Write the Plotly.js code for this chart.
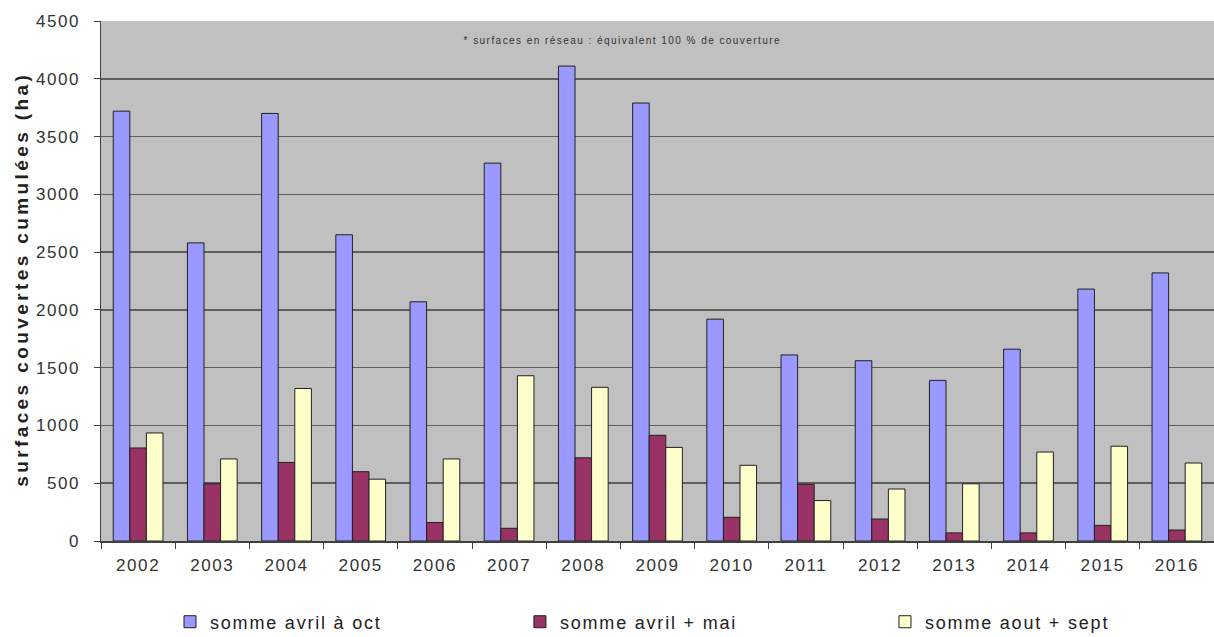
<!DOCTYPE html>
<html>
<head>
<meta charset="utf-8">
<script src="https://cdn.plot.ly/plotly-3.0.1.min.js"></script>
<style>
  html, body { margin: 0; padding: 0; background: #fff; }
  #chart { width: 1214px; height: 637px; }
  .xtick text, .ytick text { letter-spacing: 1.6px; }
  .annotation[data-index="0"] text { letter-spacing: 3.4px; }
  .annotation[data-index="1"] text { letter-spacing: 1.45px; }
</style>
</head>
<body>
<div id="chart"></div>
<script>
// Years on the category axis
const years = ['2002', '2003', '2004', '2005', '2006', '2007', '2008', '2009',
               '2010', '2011', '2012', '2013', '2014', '2015', '2016'];

// Cumulated covered surfaces (ha)
const sommeAvrilOct = [3720, 2580, 3700, 2650, 2070, 3270, 4110, 3790,
                       1920, 1610, 1560, 1390, 1660, 2180, 2320];
const sommeAvrilMai = [805, 495, 680, 600, 160, 110, 720, 915,
                       205, 490, 190, 70, 70, 135, 95];
const sommeAoutSept = [935, 710, 1320, 535, 710, 1430, 1330, 810,
                       655, 350, 450, 495, 770, 820, 675];

const seriesNames = ['somme avril à oct', 'somme avril + mai', 'somme aout + sept'];
const yTicks = [0, 500, 1000, 1500, 2000, 2500, 3000, 3500, 4000, 4500];

const edge = { color: '#202020', width: 1 };

// one legend per series so each entry sits in its own slot below the axis
const traces = [
  { type: 'bar', name: seriesNames[0], x: years, y: sommeAvrilOct, legend: 'legend',
    marker: { color: '#9999FF', line: edge } },
  { type: 'bar', name: seriesNames[1], x: years, y: sommeAvrilMai, legend: 'legend2',
    marker: { color: '#993366', line: edge } },
  { type: 'bar', name: seriesNames[2], x: years, y: sommeAoutSept, legend: 'legend3',
    marker: { color: '#FFFFCC', line: edge } }
];

const sans = 'Liberation Sans, Arial, sans-serif';
const tickFont = { family: sans, size: 17, color: '#333' };

function legendAt(x) {
  return {
    orientation: 'h',
    x: x, xanchor: 'left',
    yref: 'container',
    y: 0.0235, yanchor: 'middle',
    font: { family: sans, size: 18, color: '#222' },
    bgcolor: 'rgba(0,0,0,0)'
  };
}

const layout = {
  width: 1214,
  height: 637,
  margin: { l: 101, r: 0, t: 21, b: 96, autoexpand: false },
  paper_bgcolor: '#ffffff',
  plot_bgcolor: '#C0C0C0',
  barmode: 'group',
  bargap: 0.33,
  bargroupgap: 0,
  showlegend: true,
  legend: legendAt(0.062),
  legend2: legendAt(0.3764),
  legend3: legendAt(0.7044),
  xaxis: {
    type: 'category',
    tickson: 'boundaries',
    ticks: 'outside',
    ticklen: 6,
    tickcolor: '#404040',
    showline: true,
    linecolor: '#404040',
    linewidth: 1.5,
    showgrid: false,
    tickfont: tickFont,
    ticklabelstandoff: 8,
    fixedrange: true
  },
  yaxis: {
    range: [0, 4500],
    tickvals: yTicks,
    ticktext: yTicks.map(String),
    ticks: 'outside',
    ticklen: 6,
    tickcolor: '#404040',
    showline: true,
    linecolor: '#404040',
    linewidth: 1.5,
    showgrid: true,
    gridcolor: '#5e5e5e',
    gridwidth: 1.5,
    zeroline: false,
    tickfont: tickFont,
    ticklabelstandoff: 10,
    fixedrange: true
  },
  annotations: [
    {
      text: '<b>surfaces couvertes cumulées (ha)</b>',
      textangle: -90,
      xref: 'paper', yref: 'paper',
      x: -0.0719, y: 0.503,
      xanchor: 'center', yanchor: 'middle',
      showarrow: false,
      font: { family: sans, size: 19, color: '#222' }
    },
    {
      text: '* surfaces en réseau : équivalent 100 % de couverture',
      xref: 'paper', yref: 'paper',
      x: 0.469, y: 0.962,
      xanchor: 'center', yanchor: 'middle',
      showarrow: false,
      font: { family: sans, size: 10, color: '#333' }
    }
  ]
};

Plotly.newPlot('chart', traces, layout, { displayModeBar: false, staticPlot: true })
  .then(function (gd) {
    // widen the labels of every legend group alike, and let them run past
    // the box that was measured for the narrower text
    gd.querySelectorAll('text').forEach(function (el) {
      if (seriesNames.indexOf(el.textContent) !== -1) {
        el.style.letterSpacing = '1.8px';
      }
    });
    gd.querySelectorAll('g.scrollbox').forEach(function (el) {
      el.removeAttribute('clip-path');
    });
  });
</script>
</body>
</html>
